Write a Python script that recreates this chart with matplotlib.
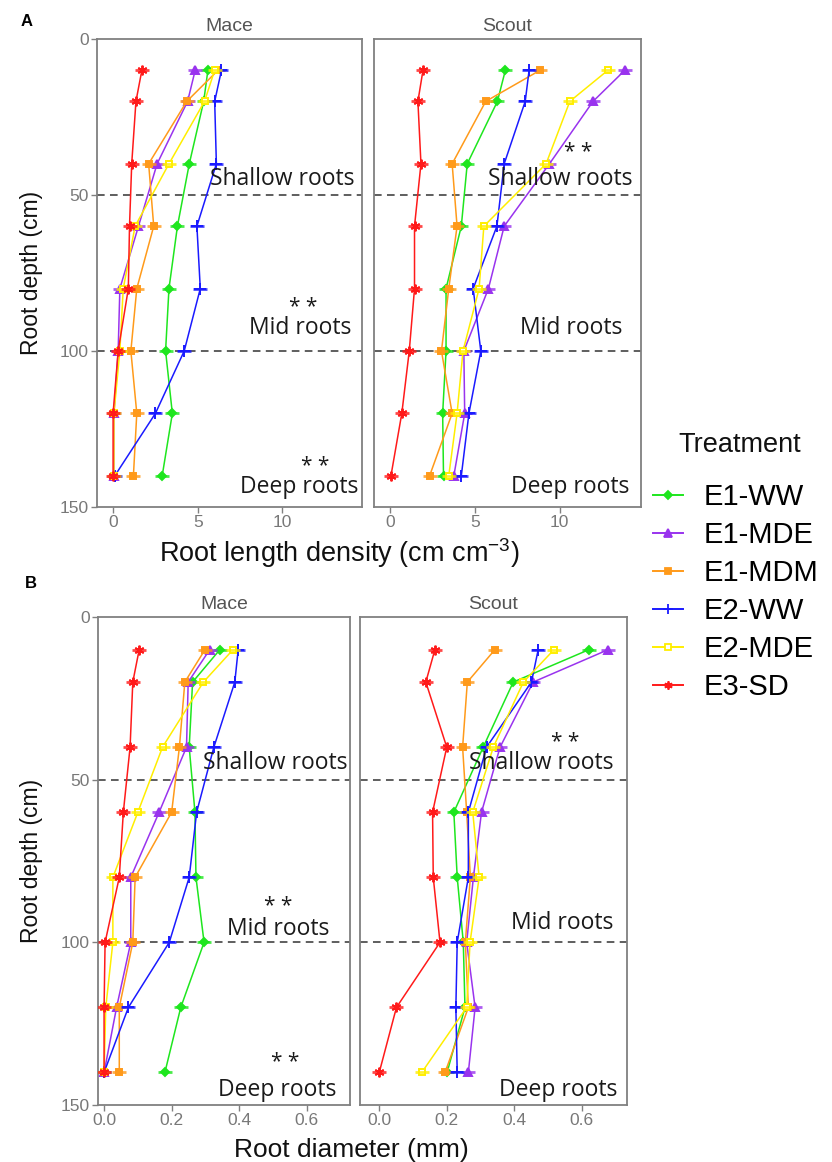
import matplotlib
matplotlib.use("Agg")
import matplotlib.pyplot as plt
import matplotlib.transforms as mtransforms
from matplotlib.lines import Line2D

plt.rcParams['font.family'] = ['Liberation Sans', 'DejaVu Sans']
plt.rcParams['mathtext.default'] = 'regular'

# ---- data ----
depth = [10, 20, 40, 60, 80, 100, 120, 140]
treatments = ["E1-WW", "E1-MDE", "E1-MDM", "E2-WW", "E2-MDE", "E3-SD"]

# root length density (cm cm-3), rows follow `treatments`
rld_mace = [
    [5.6, 5.35, 4.5, 3.8, 3.3, 3.1, 3.5, 2.9],
    [4.85, 4.4, 2.6, 1.5, 0.4, 0.3, 0.05, 0.05],
    [6.2, 4.35, 2.1, 2.4, 1.4, 1.05, 1.4, 1.2],
    [6.4, 6.0, 6.1, 4.95, 5.15, 4.2, 2.5, 0.1],
    [6.0, 5.4, 3.3, 1.3, 0.6, 0.4, 0.05, 0.05],
    [1.7, 1.35, 1.1, 0.97, 0.9, 0.3, 0.0, 0.0],
]
rld_scout = [
    [6.8, 6.33, 4.55, 4.2, 3.3, 3.3, 3.1, 3.15],
    [13.85, 11.97, 9.4, 6.73, 5.8, 4.35, 4.4, 3.76],
    [8.85, 5.64, 3.66, 3.95, 3.46, 3.03, 3.66, 2.33],
    [8.2, 7.97, 6.73, 6.3, 4.9, 5.35, 4.65, 4.2],
    [12.85, 10.6, 9.2, 5.53, 5.25, 4.3, 3.95, 3.46],
    [1.94, 1.64, 1.82, 1.44, 1.44, 1.13, 0.69, 0.05],
]
# root diameter (mm)
diam_mace = [
    [0.343, 0.262, 0.252, 0.269, 0.272, 0.296, 0.227, 0.18],
    [0.313, 0.249, 0.244, 0.163, 0.079, 0.079, 0.037, 0.0],
    [0.299, 0.239, 0.223, 0.2, 0.092, 0.085, 0.045, 0.045],
    [0.397, 0.387, 0.325, 0.274, 0.252, 0.193, 0.072, 0.0],
    [0.382, 0.294, 0.173, 0.1, 0.026, 0.026, 0.005, 0.0],
    [0.104, 0.085, 0.077, 0.057, 0.045, 0.003, 0.0, 0.0],
]
diam_scout = [
    [0.622, 0.397, 0.308, 0.221, 0.231, 0.249, 0.254, 0.201],
    [0.679, 0.456, 0.358, 0.303, 0.279, 0.259, 0.284, 0.264],
    [0.343, 0.261, 0.247, 0.259, 0.27, 0.255, 0.264, 0.195],
    [0.471, 0.451, 0.318, 0.264, 0.264, 0.231, 0.227, 0.231],
    [0.518, 0.427, 0.338, 0.277, 0.296, 0.269, 0.259, 0.126],
    [0.165, 0.138, 0.2, 0.158, 0.16, 0.18, 0.051, 0.0],
]
rld_ticks = [0, 5, 10]
diam_ticks = [0.0, 0.2, 0.4, 0.6]
depth_ticks = [0, 50, 100, 150]

# ---- styles ----
colors = ["#1ee61e", "#9933ee", "#ff9a1a", "#1a1aff", "#ffee00", "#ff1a1a"]
markers = ["D", "^", "s", "+", "s", (6, 2, 0)]
msizes = [4.5, 6, 5, 8, 5, 7]
faces = [None, None, None, None, "white", None]
W, H = 832, 1162
grey = "#808080"
ann_font = "Open Sans"

fig = plt.figure(figsize=(W / 100, H / 100), dpi=100)


def px_axes(l, t, r, b):
    return fig.add_axes([l / W, 1 - b / H, (r - l) / W, (b - t) / H])


def draw_panel(ax, data, xlim, xticks, fmt, name, left):
    for i, vals in enumerate(data):
        ax.plot(vals, depth, color=colors[i], lw=1.1, marker=markers[i],
                ms=msizes[i], mec=colors[i], mfc=faces[i] or colors[i],
                mew=1.4, zorder=3)
        ax.plot(vals, depth, ls="none", marker="_", ms=10, mew=2,
                color=colors[i], alpha=0.8, zorder=3)
    ax.axhline(50, color="#333333", lw=1.1, ls=(0, (5, 3.5)), zorder=2)
    ax.axhline(100, color="#333333", lw=1.1, ls=(0, (5, 3.5)), zorder=2)
    ax.set_xlim(*xlim)
    ax.set_ylim(150, 0)
    ax.set_xticks(xticks)
    ax.set_xticklabels([fmt.format(v) for v in xticks])
    ax.set_yticks(depth_ticks)
    for s in ax.spines.values():
        s.set_color(grey)
        s.set_linewidth(1.3)
    ax.tick_params(color=grey, length=4, width=1, labelcolor="#787878",
                   labelsize=12.5, pad=2)
    if not left:
        ax.tick_params(left=False, labelleft=False)
    ax.set_title(name, color="#555555", fontsize=14, pad=6)


def note(ax, xf, y, s, ha="right", size=16.5):
    tr = mtransforms.blended_transform_factory(ax.transAxes, ax.transData)
    ax.text(xf, y, s, transform=tr, ha=ha, va="center", fontsize=size,
            family=ann_font, color="#1a1a1a", zorder=4)


# ---- panel A ----
a1 = px_axes(97, 39, 362, 507)
a2 = px_axes(374, 39, 641, 507)
draw_panel(a1, rld_mace, (-0.95, 14.7), rld_ticks, "{:d}", "Mace", True)
draw_panel(a2, rld_scout, (-0.95, 14.8), rld_ticks, "{:d}", "Scout", False)

note(a1, 0.97, 45, "Shallow roots")
note(a1, 0.777, 86, "* *", ha="center", size=15)
note(a1, 0.96, 92.5, "Mid roots")
note(a1, 0.985, 143.5, "Deep roots")
note(a1, 0.823, 137, "* *", ha="center", size=15)
note(a2, 0.97, 45, "Shallow roots")
note(a2, 0.764, 36.5, "* *", ha="center", size=15)
note(a2, 0.93, 92.5, "Mid roots")
note(a2, 0.955, 143.5, "Deep roots")

# ---- panel B ----
b1 = px_axes(98, 617, 350, 1105)
b2 = px_axes(360, 617, 627, 1105)
draw_panel(b1, diam_mace, (-0.018, 0.728), diam_ticks, "{:.1f}", "Mace", True)
draw_panel(b2, diam_scout, (-0.057, 0.734), diam_ticks, "{:.1f}", "Scout", False)

note(b1, 0.99, 45, "Shallow roots")
note(b1, 0.714, 89, "* *", ha="center", size=15)
note(b1, 0.92, 96, "Mid roots")
note(b1, 0.742, 137, "* *", ha="center", size=15)
note(b1, 0.945, 145.5, "Deep roots")
note(b2, 0.948, 45, "Shallow roots")
note(b2, 0.768, 38.5, "* *", ha="center", size=15)
note(b2, 0.948, 94, "Mid roots")
note(b2, 0.963, 145.5, "Deep roots")

# ---- axis titles and panel letters ----
fig.text(32 / W, 1 - 273 / H, "Root depth (cm)", rotation=90, ha="center",
         va="center", fontsize=16.5, color="#111111")
fig.text(32 / W, 1 - 861 / H, "Root depth (cm)", rotation=90, ha="center",
         va="center", fontsize=16.5, color="#111111")
fig.text(339 / W, 1 - 553 / H, "Root length density (cm cm$^{-3}$)",
         ha="center", va="center", fontsize=19.5, color="#111111")
fig.text(351 / W, 1 - 1150 / H, "Root diameter (mm)", ha="center",
         va="center", fontsize=19, color="#111111")
fig.text(27 / W, 1 - 22 / H, "A", ha="center", va="center", fontsize=12,
         fontweight="bold")
fig.text(31 / W, 1 - 583 / H, "B", ha="center", va="center", fontsize=12,
         fontweight="bold")

# ---- legend ----
fig.text(740 / W, 1 - 445 / H, "Treatment", ha="center", va="center",
         fontsize=19.5, color="#111111")
handles = [Line2D([0], [0], color=colors[i], lw=1.4, marker=markers[i],
                  ms=msizes[i] * 0.85, mec=colors[i],
                  mfc=faces[i] or colors[i], mew=1.3)
           for i in range(len(treatments))]
leg = fig.legend(handles, treatments, loc="upper left",
                 bbox_to_anchor=(633 / W, 1 - 463 / H), frameon=False,
                 fontsize=21, handlelength=1.03, handletextpad=0.68,
                 labelspacing=0.34, borderpad=0.2)

fig.savefig("out.png", dpi=100)
